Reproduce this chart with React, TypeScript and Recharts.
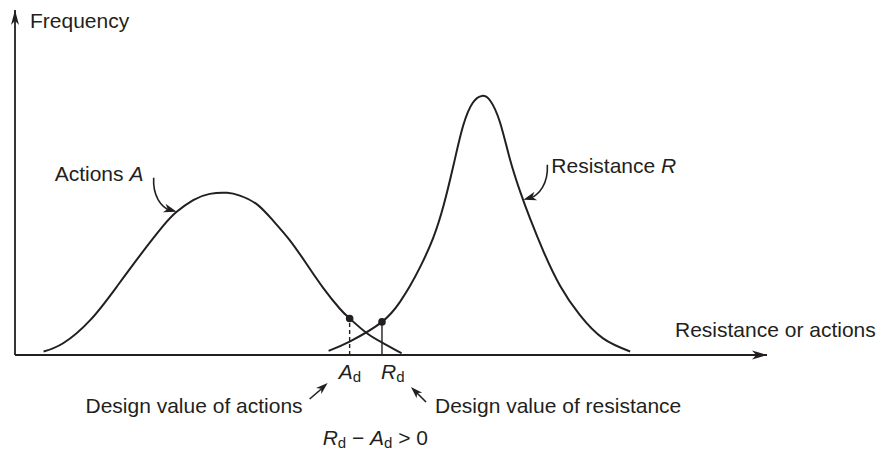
import { LineChart, Line, XAxis, YAxis, ReferenceLine, ReferenceDot } from 'recharts';

// curve samples (x, y in arbitrary 0-100 units)
const actionsX = [3.8, 6.4, 10.0, 13.5, 16.6, 19.7, 21.5, 23.7, 25.9, 28.2, 29.9, 32.1, 34.3, 36.6, 38.8, 41.0, 43.2, 44.5, 46.8, 49.0, 51.4];
const actionsY = [1.0, 3.4, 10.1, 19.7, 28.8, 37.4, 41.5, 44.9, 46.7, 47.0, 46.2, 43.8, 39.0, 33.1, 26.3, 19.4, 13.4, 10.6, 6.3, 3.4, 0.5];

const resistanceX = [41.7, 44.5, 48.8, 51.2, 52.5, 53.9, 55.6, 57.0, 58.3, 59.6, 60.9, 62.1, 63.2, 64.5, 65.8, 67.2, 68.5, 70.3, 72.5, 75.1, 78.2, 81.8];
const resistanceY = [1.2, 3.9, 9.6, 15.4, 19.9, 25.6, 33.9, 43.4, 54.9, 66.5, 73.2, 75.1, 73.7, 67.4, 56.9, 47.2, 39.5, 29.9, 20.0, 11.6, 4.8, 1.0];

// design values: x position and height on the matching curve
const designActions = { x: 44.5, y: 10.6 };
const designResistance = { x: 48.8, y: 9.6 };

// where the curved label arrows touch the curves
const actionsNoteAt = { x: 21.5, y: 41.5 };
const resistanceNoteAt = { x: 67.6, y: 45.0 };

const actionsData = actionsX.map((x, i) => ({ x, y: actionsY[i] }));
const resistanceData = resistanceX.map((x, i) => ({ x, y: resistanceY[i] }));

const INK = '#231f20';
const FONT = '"Liberation Sans", Arial, Helvetica, sans-serif';
const FS = 21;

// barbed arrow head, tip at (tx,ty), pointing away from (fx,fy)
function head(tx: number, ty: number, fx: number, fy: number, len = 13, half = 4.5) {
  const dx = tx - fx;
  const dy = ty - fy;
  const d = Math.hypot(dx, dy) || 1;
  const ux = dx / d;
  const uy = dy / d;
  const px = -uy;
  const py = ux;
  const bx = tx - ux * len;
  const by = ty - uy * len;
  const nx = tx - ux * len * 0.72;
  const ny = ty - uy * len * 0.72;
  return `${tx},${ty} ${bx + px * half},${by + py * half} ${nx},${ny} ${bx - px * half},${by - py * half}`;
}

const Txt = (props: any) => (
  <text fontFamily={FONT} fontSize={FS} fill={INK} {...props} />
);

const Sub = ({ children }: { children: string }) => (
  <tspan fontSize={15} dy={3}>{children}</tspan>
);

const XArrow = ({ cx, cy }: any) => (
  <g>
    <polygon points={head(cx, cy, cx - 20, cy, 15, 4.5)} fill={INK} />
    <Txt x={cx - 92} y={cy - 18}>Resistance or actions</Txt>
  </g>
);

const YArrow = ({ cx, cy }: any) => (
  <g>
    <polygon points={head(cx, cy, cx, cy + 20, 15, 4)} fill={INK} />
    <Txt x={cx + 15} y={cy + 18}>Frequency</Txt>
  </g>
);

const ActionsNote = ({ cx, cy }: any) => (
  <g>
    <Txt x={cx - 122} y={cy - 31}>
      Actions <tspan fontStyle="italic">A</tspan>
    </Txt>
    <path
      d={`M ${cx - 23} ${cy - 34} C ${cx - 24} ${cy - 16}, ${cx - 16} ${cy - 5}, ${cx - 6} ${cy - 1}`}
      fill="none"
      stroke={INK}
      strokeWidth={1.6}
    />
    <polygon points={head(cx, cy, cx - 13, cy - 4)} fill={INK} />
  </g>
);

const ResistanceNote = ({ cx, cy }: any) => (
  <g>
    <Txt x={cx + 28} y={cy - 27}>
      Resistance <tspan fontStyle="italic">R</tspan>
    </Txt>
    <path
      d={`M ${cx + 24} ${cy - 35} C ${cx + 25} ${cy - 16}, ${cx + 16} ${cy - 5}, ${cx + 6} ${cy - 1}`}
      fill="none"
      stroke={INK}
      strokeWidth={1.6}
    />
    <polygon points={head(cx, cy, cx + 13, cy - 4)} fill={INK} />
  </g>
);

const ActionsFoot = ({ cx, cy }: any) => (
  <g>
    <Txt x={cx - 11} y={cy + 24}>
      <tspan fontStyle="italic">A</tspan>
      <Sub>d</Sub>
    </Txt>
    <Txt x={cx - 47} y={cy + 58} textAnchor="end">Design value of actions</Txt>
    <line x1={cx - 40} y1={cy + 44} x2={cx - 26} y2={cy + 32} stroke={INK} strokeWidth={1.6} />
    <polygon points={head(cx - 22, cy + 28, cx - 40, cy + 44, 12, 4)} fill={INK} />
    <Txt x={cx - 27} y={cy + 90}>
      <tspan fontStyle="italic">R</tspan>
      <Sub>d</Sub>
      <tspan dy={-3}> − </tspan>
      <tspan fontStyle="italic">A</tspan>
      <Sub>d</Sub>
      <tspan dy={-3}> &gt; 0</tspan>
    </Txt>
  </g>
);

const ResistanceFoot = ({ cx, cy }: any) => (
  <g>
    <Txt x={cx - 1} y={cy + 24}>
      <tspan fontStyle="italic">R</tspan>
      <Sub>d</Sub>
    </Txt>
    <Txt x={cx + 53} y={cy + 58}>Design value of resistance</Txt>
    <line x1={cx + 44} y1={cy + 47} x2={cx + 33} y2={cy + 36} stroke={INK} strokeWidth={1.6} />
    <polygon points={head(cx + 29, cy + 32, cx + 44, cy + 47, 12, 4)} fill={INK} />
  </g>
);

const Dot = ({ cx, cy }: any) => <circle cx={cx} cy={cy} r={3.8} fill={INK} />;

export default function App() {
  return (
    <div style={{ position: 'absolute', left: 0, top: 0, background: '#fff' }}>
      <LineChart width={888} height={450} margin={{ top: 10, right: 121, bottom: 95, left: 15 }}>
        <XAxis dataKey="x" type="number" domain={[0, 100]} hide />
        <YAxis type="number" domain={[0, 100]} hide />
        {/* axes drawn as reference lines so they sit exactly on the plot edges */}
        <ReferenceLine y={0} stroke={INK} strokeWidth={1.8} ifOverflow="visible" />
        <ReferenceLine x={0} stroke={INK} strokeWidth={1.8} ifOverflow="visible" />
        <Line
          data={actionsData}
          dataKey="y"
          type="natural"
          stroke={INK}
          strokeWidth={2}
          dot={false}
          activeDot={false}
          isAnimationActive={false}
        />
        <Line
          data={resistanceData}
          dataKey="y"
          type="natural"
          stroke={INK}
          strokeWidth={2}
          dot={false}
          activeDot={false}
          isAnimationActive={false}
        />
        <ReferenceLine
          segment={[{ x: designActions.x, y: 0 }, { x: designActions.x, y: designActions.y }]}
          stroke={INK}
          strokeWidth={1.4}
          strokeDasharray="4 3"
        />
        <ReferenceLine
          segment={[{ x: designResistance.x, y: 0 }, { x: designResistance.x, y: designResistance.y }]}
          stroke={INK}
          strokeWidth={1.4}
        />
        <ReferenceDot x={designActions.x} y={designActions.y} ifOverflow="visible" shape={Dot} />
        <ReferenceDot x={designResistance.x} y={designResistance.y} ifOverflow="visible" shape={Dot} />
        <ReferenceDot x={designActions.x} y={0} ifOverflow="visible" shape={ActionsFoot} />
        <ReferenceDot x={designResistance.x} y={0} ifOverflow="visible" shape={ResistanceFoot} />
        <ReferenceDot x={actionsNoteAt.x} y={actionsNoteAt.y} ifOverflow="visible" shape={ActionsNote} />
        <ReferenceDot x={resistanceNoteAt.x} y={resistanceNoteAt.y} ifOverflow="visible" shape={ResistanceNote} />
        <ReferenceDot x={100} y={0} ifOverflow="visible" shape={XArrow} />
        <ReferenceDot x={0} y={100} ifOverflow="visible" shape={YArrow} />
      </LineChart>
    </div>
  );
}
